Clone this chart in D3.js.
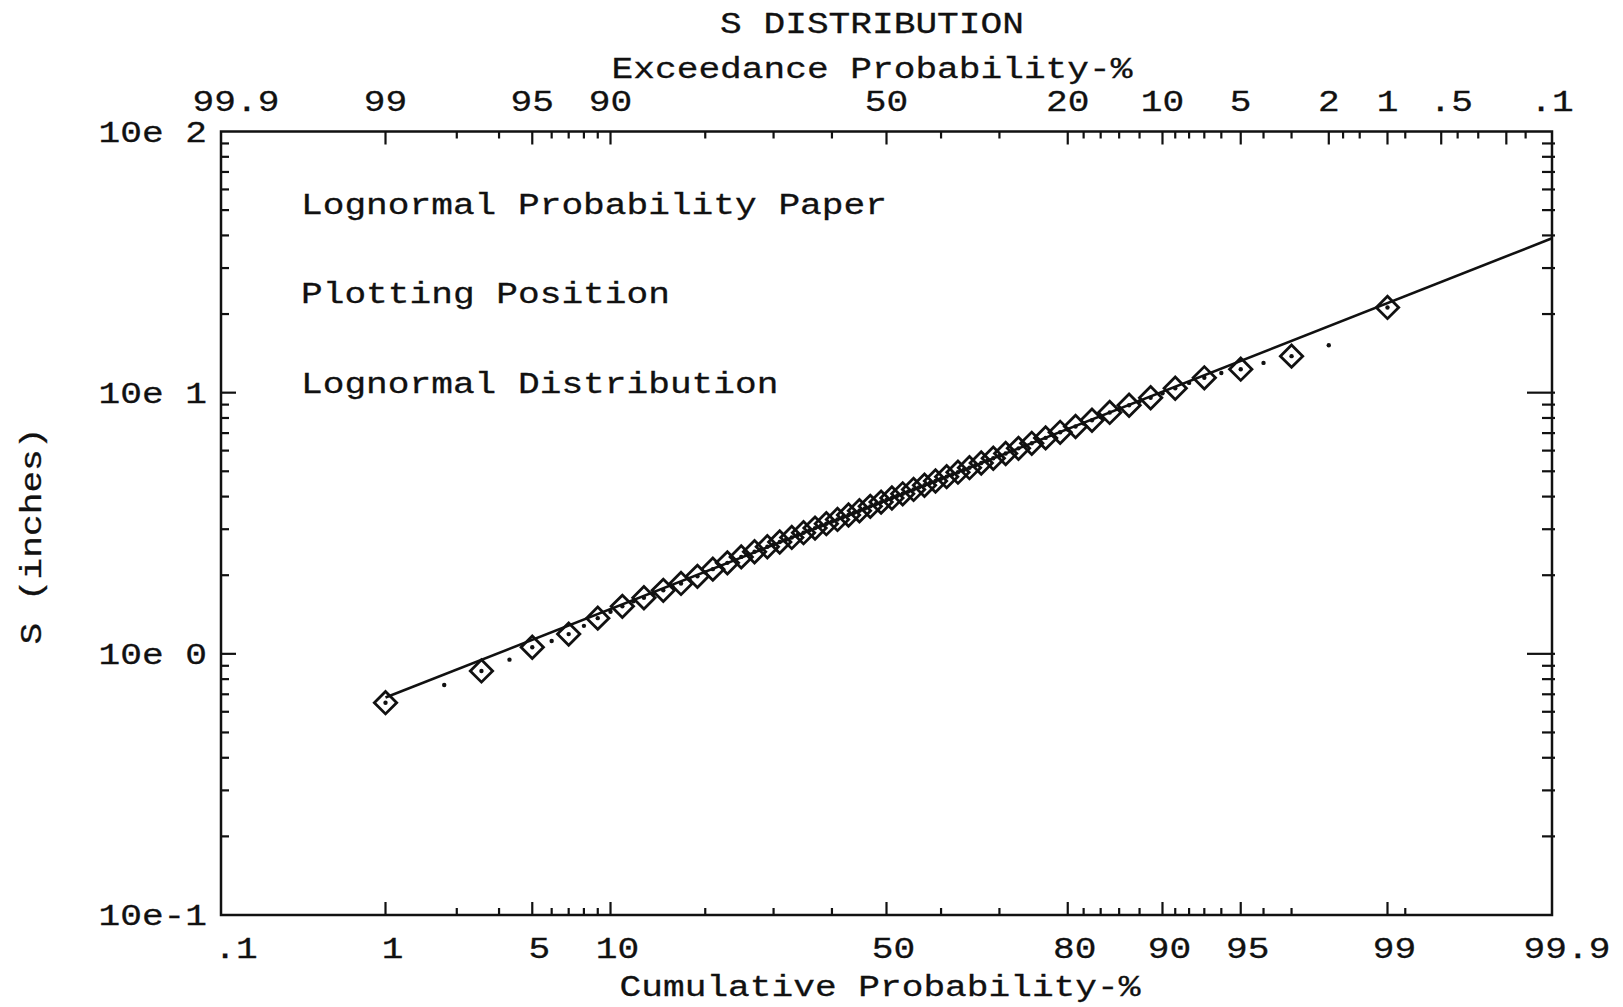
<!DOCTYPE html>
<html>
<head>
<meta charset="utf-8">
<script src="https://cdn.jsdelivr.net/npm/d3@7"></script>
<style>
  body { margin: 0; background: #fff; }
  text { font-family: "Liberation Mono", "DejaVu Sans Mono", monospace; fill: #111; }
</style>
</head>
<body>
<script>
// ---- data ----
// plotting positions (cumulative %) of the 99 ranked values
var rankPct = [1,2,3,4,5,6,7,8,9,10,11,12,13,14,15,16,17,18,19,20,
  21,22,23,24,25,26,27,28,29,30,31,32,33,34,35,36,37,38,39,40,
  41,42,43,44,45,46,47,48,49,50,51,52,53,54,55,56,57,58,59,60,
  61,62,63,64,65,66,67,68,69,70,71,72,73,74,75,76,77,78,79,80,
  81,82,83,84,85,86,87,88,89,90,91,92,93,94,95,96,97,98,99];
// S (inches), ranked
var sValues = [0.65,0.76,0.86,0.95,1.06,1.12,1.19,1.28,1.37,1.45,
  1.52,1.59,1.64,1.70,1.75,1.81,1.86,1.93,1.98,2.05,
  2.11,2.17,2.23,2.29,2.35,2.40,2.46,2.51,2.57,2.62,
  2.68,2.73,2.79,2.85,2.91,2.97,3.03,3.09,3.15,3.21,
  3.27,3.34,3.40,3.47,3.53,3.60,3.67,3.74,3.81,3.88,
  3.95,4.03,4.10,4.18,4.26,4.34,4.42,4.51,4.59,4.68,
  4.77,4.86,4.96,5.06,5.16,5.27,5.38,5.49,5.61,5.73,
  5.85,5.98,6.12,6.26,6.40,6.55,6.71,6.88,7.05,7.23,
  7.42,7.62,7.84,8.07,8.40,8.65,8.95,9.25,9.56,9.95,
  10.4,10.9,11.4,11.9,12.3,13.0,13.8,15.2,21.2];
// fitted lognormal distribution line (end points)
var fitPct = [1, 99.9];
var fitS = [0.68, 39];

// bottom axis (cumulative %)
var bottomLabels = [".1","1","5","10","50","80","90","95","99","99.9"];
var bottomLabelPct = [0.1,1,5,10,50,80,90,95,99,99.9];
var bottomMajor = [1,5,10,50,80,90,95,99];
var bottomMinor = [2.3,3.6,6,7,8,9,20,30,40,60,70,82,84,86,88,91,92,93,94,96,97,99.2];
// top axis (exceedance %)
var topLabels = ["99.9","99","95","90","50","20","10","5","2","1",".5",".1"];
var topLabelExc = [99.9,99,95,90,50,20,10,5,2,1,0.5,0.1];
var topMajor = [99,95,90,50,20,10,5,2,1,0.5,0.2];
var topMinor = [97.7,96.4,94,93,92,91,80,70,60,40,30,18,16,14,12,9,8,7,6,4,3,1.7,1.4,0.8,0.4,0.3,0.15];
// y axis
var yDecades = [0.1, 1, 10, 100];
var yLabels = ["10e-1", "10e 0", "10e 1", "10e 2"];
var yMinorMult = [2,3,4,5,6,7,8,9];

var legendLines = ["Lognormal Probability Paper", "Plotting Position", "Lognormal Distribution"];

// ---- layout ----
var W = 1623, H = 1007;
var plotL = 221, plotR = 1552, plotT = 131.5, plotB = 915;
var CH = 21.7, FS = 30;

var svg = d3.select("body").append("svg")
  .attr("width", W).attr("height", H);

// inverse normal cdf (Acklam)
function probit(p) {
  var a = [-3.969683028665376e+01, 2.209460984245205e+02, -2.759285104469687e+02, 1.383577518672690e+02, -3.066479806614716e+01, 2.506628277459239e+00];
  var b = [-5.447609879822406e+01, 1.615858368580409e+02, -1.556989798598866e+02, 6.680131188771972e+01, -1.328068155288572e+01];
  var c = [-7.784894002430293e-03, -3.223964580411365e-01, -2.400758277161838e+00, -2.549732539343734e+00, 4.374664141464968e+00, 2.938163982698783e+00];
  var d = [7.784695709041462e-03, 3.224671290700398e-01, 2.445134137142996e+00, 3.754408661907416e+00];
  var pl = 0.02425, q, r;
  if (p < pl) {
    q = Math.sqrt(-2 * Math.log(p));
    return (((((c[0]*q+c[1])*q+c[2])*q+c[3])*q+c[4])*q+c[5]) / ((((d[0]*q+d[1])*q+d[2])*q+d[3])*q+1);
  }
  if (p > 1 - pl) {
    q = Math.sqrt(-2 * Math.log(1 - p));
    return -(((((c[0]*q+c[1])*q+c[2])*q+c[3])*q+c[4])*q+c[5]) / ((((d[0]*q+d[1])*q+d[2])*q+d[3])*q+1);
  }
  q = p - 0.5; r = q * q;
  return (((((a[0]*r+a[1])*r+a[2])*r+a[3])*r+a[4])*r+a[5])*q / (((((b[0]*r+b[1])*r+b[2])*r+b[3])*r+b[4])*r+1);
}

var xz = d3.scaleLinear().domain([probit(0.001), probit(0.999)]).range([plotL, plotR]);
function px(pct) { return xz(probit(pct / 100)); }
var y = d3.scaleLog().domain([0.1, 100]).range([plotB, plotT]);

// plotter style text, stretched to a fixed character pitch
function label(g, str, x, yy, anchor) {
  return g.append("text")
    .attr("x", x).attr("y", yy)
    .attr("font-size", FS)
    .attr("text-anchor", anchor || "middle")
    .attr("textLength", str.length * CH)
    .attr("lengthAdjust", "spacingAndGlyphs")
    .style("stroke", "#111").style("stroke-width", 0.3)
    .text(str);
}

var ink = "#111";

// frame
svg.append("rect")
  .attr("x", plotL).attr("y", plotT)
  .attr("width", plotR - plotL).attr("height", plotB - plotT)
  .attr("fill", "none").attr("stroke", ink).attr("stroke-width", 2.5);

// bottom ticks
function vTicks(vals, y0, len, w) {
  svg.append("g").selectAll("line").data(vals).join("line")
    .attr("x1", function(d) { return px(d); }).attr("x2", function(d) { return px(d); })
    .attr("y1", y0).attr("y2", y0 + len)
    .attr("stroke", ink).attr("stroke-width", w);
}
vTicks(bottomMajor, plotB, -13, 2.2);
vTicks(bottomMinor, plotB, -7, 2.2);
// top ticks (exceedance -> cumulative)
vTicks(topMajor.map(function(e) { return 100 - e; }), plotT, 13, 2.2);
vTicks(topMinor.map(function(e) { return 100 - e; }), plotT, 7, 2.2);

// y ticks
var yMinor = [];
yDecades.slice(0, 3).forEach(function(dec) {
  yMinorMult.forEach(function(m) { yMinor.push(dec * m); });
});
function hTicks(vals, x1, x2, w) {
  svg.append("g").selectAll("line").data(vals).join("line")
    .attr("x1", x1).attr("x2", x2)
    .attr("y1", function(d) { return y(d); }).attr("y2", function(d) { return y(d); })
    .attr("stroke", ink).attr("stroke-width", w);
}
hTicks(yDecades.slice(1, 3), plotL, plotL + 15, 2.2);
hTicks(yMinor, plotL, plotL + 8, 2.2);
hTicks(yDecades.slice(1, 3), plotR - 25, plotR + 3, 2.2);
hTicks(yMinor, plotR - 10, plotR + 3, 2.2);

// tick labels
var gl = svg.append("g");
bottomLabels.forEach(function(s, i) {
  var dx = i === 0 || i === bottomLabels.length - 1 ? 15 : 7;
  label(gl, s, px(bottomLabelPct[i]) + dx, 957.5);
});
topLabels.forEach(function(s, i) {
  var dx = i === 0 ? 15 : (s === ".5" ? 10 : 0);
  label(gl, s, px(100 - topLabelExc[i]) + dx, 110.8);
});
yLabels.forEach(function(s, i) {
  label(gl, s, 207, y(yDecades[i]) + 10, "end");
});

// titles
label(svg, "S DISTRIBUTION", 872, 33);
label(svg, "Exceedance Probability-%", 872, 78);
label(svg, "Cumulative Probability-%", 880, 996);
label(svg.append("g").attr("transform", "translate(41,536) rotate(-90)"), "S (inches)", 0, 0);

// legend text
var legY = [214, 302.5, 393];
legendLines.forEach(function(s, i) { label(svg, s, 301, legY[i], "start"); });

// fitted line
var fit = fitPct.map(function(p, i) { return [p, fitS[i]]; });
svg.append("path")
  .datum(fit)
  .attr("d", d3.line().x(function(d) { return px(d[0]); }).y(function(d) { return y(d[1]); }))
  .attr("fill", "none").attr("stroke", ink).attr("stroke-width", 2.6);

// data: every rank gets a dot, odd ranks get a diamond
var pts = rankPct.map(function(p, i) { return { p: p, s: sValues[i], rank: i + 1 }; });
svg.append("g").selectAll("circle").data(pts).join("circle")
  .attr("cx", function(d) { return px(d.p); })
  .attr("cy", function(d) { return y(d.s); })
  .attr("r", 2.2).attr("fill", ink);
var dsym = d3.symbol().type(d3.symbolSquare).size(250);
svg.append("g").selectAll("path").data(pts.filter(function(d) { return d.rank % 2 === 1; })).join("path")
  .attr("d", dsym)
  .attr("transform", function(d) { return "translate(" + px(d.p) + "," + y(d.s) + ") rotate(45)"; })
  .attr("fill", "none").attr("stroke", ink).attr("stroke-width", 2.8);
</script>
</body>
</html>
